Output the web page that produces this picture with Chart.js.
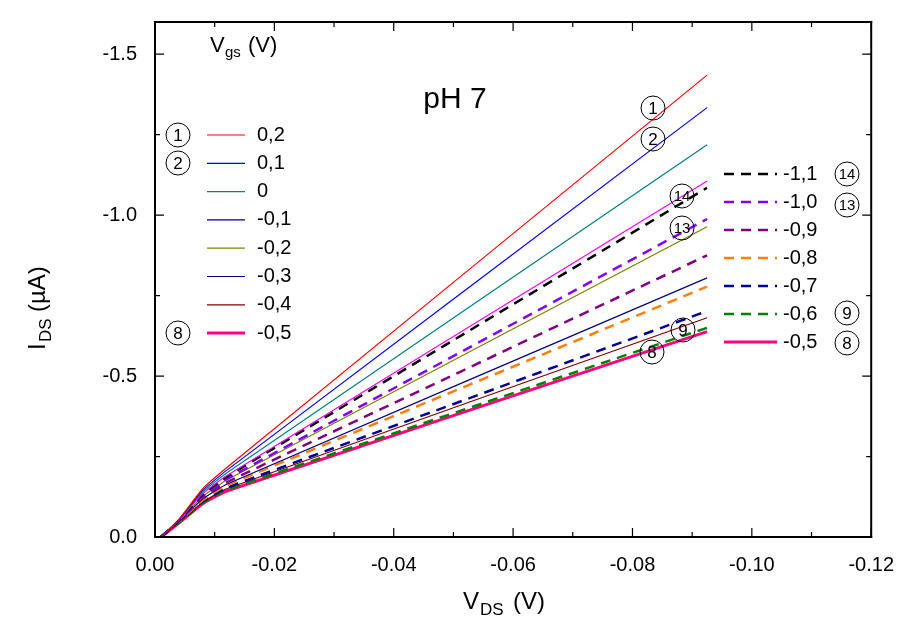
<!DOCTYPE html>
<html><head><meta charset="utf-8">
<script src="https://cdn.jsdelivr.net/npm/chart.js@4"></script>
<style>body{margin:0;background:#fff}#c{display:block}</style>
</head><body>
<div style="width:902px;height:631px"><canvas id="c"></canvas></div>
<script>
// |V_DS| in V, |I_DS| in uA (plotted as magnitudes, labels carry the minus sign)
const vds = [0.001, 0.004, 0.008, 0.012, 0.0925];
const vgsLabels = ['0,2', '0,1', '0', '-0,1', '-1,1', '-1,0', '-0,2', '-0,9', '-0,3', '-0,8', '-0,7', '-0,4', '-0,6', '-0,5'];
const colors = ['#ff0000', '#0000ff', '#008080', '#ff00ff', '#000000', '#8000ff', '#808000', '#800080', '#000080', '#ff8000', '#000099', '#800000', '#008000', '#ff0080'];
const dashed = [false, false, false, false, true, true, false, true, false, true, true, false, true, false];
const widths = [1.2, 1.2, 1.2, 1.2, 2.5, 2.5, 1.2, 2.5, 1.2, 2.5, 2.5, 1.2, 2.5, 3];
const curves = [
  [0, 0.055, 0.150, 0.215, 1.435],
  [0, 0.054, 0.145, 0.207, 1.334],
  [0, 0.053, 0.140, 0.199, 1.219],
  [0, 0.052, 0.135, 0.190, 1.106],
  [0, 0.051, 0.132, 0.187, 1.085],
  [0, 0.050, 0.128, 0.180, 0.988],
  [0, 0.050, 0.126, 0.177, 0.964],
  [0, 0.049, 0.122, 0.170, 0.875],
  [0, 0.048, 0.118, 0.164, 0.805],
  [0, 0.047, 0.115, 0.160, 0.778],
  [0, 0.046, 0.110, 0.153, 0.702],
  [0, 0.045, 0.108, 0.150, 0.681],
  [0, 0.044, 0.105, 0.146, 0.650],
  [0, 0.043, 0.103, 0.143, 0.638]
];
const leftLegend = ['0,2', '0,1', '0', '-0,1', '-0,2', '-0,3', '-0,4', '-0,5'];
const leftColors = ['#ff0000', '#0000ff', '#008080', '#000080', '#808000', '#000099', '#800000', '#ff0080'];
const rightLegend = ['-1,1', '-1,0', '-0,9', '-0,8', '-0,7', '-0,6', '-0,5'];
const rightColors = ['#000000', '#8000ff', '#800080', '#ff8000', '#000099', '#008000', '#ff0080'];
const rightDashed = [true, true, true, true, true, true, false];

const datasets = curves.map((ys, i) => ({
  label: vgsLabels[i],
  data: ys.map((y, j) => ({x: vds[j], y: y})),
  borderColor: colors[i],
  borderWidth: widths[i],
  borderDash: dashed[i] ? [10, 7] : [],
  pointRadius: 0,
  tension: 0.15
}));

function circ(ctx, x, y, t) {
  ctx.beginPath(); ctx.arc(x, y, 12, 0, Math.PI * 2);
  ctx.lineWidth = 1; ctx.strokeStyle = '#000'; ctx.setLineDash([]); ctx.stroke();
  ctx.font = (t.length > 1 ? '15px' : '17px') + ' "Liberation Sans", Arial';
  ctx.fillStyle = '#000'; ctx.textAlign = 'center'; ctx.textBaseline = 'middle';
  ctx.fillText(t, x, y + 1);
}

const deco = {
  id: 'deco',
  afterDraw(chart) {
    const ctx = chart.ctx, a = chart.chartArea;
    const xs = chart.scales.x, ys = chart.scales.y;
    ctx.save();
    ctx.setLineDash([]);
    // plot frame
    ctx.fillStyle = '#000';
    ctx.fillRect(a.left - 1, a.top - 1, a.right - a.left + 2, 2);
    ctx.fillRect(a.left - 1, a.bottom - 1, a.right - a.left + 2, 2);
    ctx.fillRect(a.left - 1, a.top - 1, 2, a.bottom - a.top + 2);
    ctx.fillRect(a.right - 1, a.top - 1, 2, a.bottom - a.top + 2);
    ctx.strokeStyle = '#000'; ctx.lineWidth = 1.2;
    for (let v = 0; v <= 0.1201; v += 0.01) {
      const p = xs.getPixelForValue(v), L = Math.round(v * 100) % 2 === 0 ? 9 : 5;
      ctx.beginPath(); ctx.moveTo(p, a.bottom); ctx.lineTo(p, a.bottom - L);
      ctx.moveTo(p, a.top); ctx.lineTo(p, a.top + L); ctx.stroke();
    }
    for (let v = 0; v <= 1.6; v += 0.25) {
      const p = ys.getPixelForValue(v); if (p < a.top) continue;
      const L = Math.round(v * 4) % 2 === 0 ? 9 : 5;
      ctx.beginPath(); ctx.moveTo(a.left, p); ctx.lineTo(a.left + L, p);
      ctx.moveTo(a.right, p); ctx.lineTo(a.right - L, p); ctx.stroke();
    }
    ctx.textBaseline = 'middle';
    ctx.font = '30px "Liberation Sans", Arial'; ctx.textAlign = 'center';
    ctx.fillText('pH 7', 455, 100);
    ctx.font = '22px "Liberation Sans", Arial'; ctx.textAlign = 'left';
    ctx.fillText('V', 210, 46);
    ctx.font = '15px "Liberation Sans", Arial'; ctx.fillText('gs', 225, 53);
    ctx.font = '22px "Liberation Sans", Arial'; ctx.fillText('(V)', 248, 46);
    ctx.font = '20px "Liberation Sans", Arial';
    leftLegend.forEach((t, i) => {
      const y = 135 + i * 28.3;
      ctx.strokeStyle = leftColors[i]; ctx.lineWidth = i === 7 ? 3 : 1.2; ctx.setLineDash([]);
      ctx.beginPath(); ctx.moveTo(207, y); ctx.lineTo(245, y); ctx.stroke();
      ctx.fillText(t, 257, y);
    });
    rightLegend.forEach((t, i) => {
      const y = 174 + i * 28;
      ctx.strokeStyle = rightColors[i]; ctx.lineWidth = rightDashed[i] ? 2.5 : 3;
      ctx.setLineDash(rightDashed[i] ? [10, 7] : []);
      ctx.beginPath(); ctx.moveTo(724, y); ctx.lineTo(777, y); ctx.stroke();
      ctx.setLineDash([]);
      ctx.fillText(t, 783, y);
    });
    [[178, 135, '1'], [178, 163, '2'], [178, 333, '8'], [653, 108, '1'], [653, 139, '2'],
     [682, 196, '14'], [682, 228, '13'], [683, 330, '9'], [652, 352, '8'],
     [847, 174, '14'], [847, 205, '13'], [847, 313, '9'], [847, 343, '8']].forEach(c => circ(ctx, c[0], c[1], c[2]));
    // axis titles
    ctx.textAlign = 'left'; ctx.font = '24px "Liberation Sans", Arial';
    ctx.fillText('V', 463, 602);
    ctx.font = '17px "Liberation Sans", Arial'; ctx.fillText('DS', 480, 610);
    ctx.font = '24px "Liberation Sans", Arial'; ctx.fillText('(V)', 513, 602);
    ctx.translate(38, 290); ctx.rotate(-Math.PI / 2);
    ctx.fillText('I', -60, 0);
    ctx.font = '17px "Liberation Sans", Arial'; ctx.fillText('DS', -52, 8);
    ctx.font = '24px "Liberation Sans", Arial'; ctx.fillText('(\u00b5A)', -22, 0);
    ctx.restore();
  }
};

const tickFont = {size: 20, family: '"Liberation Sans", Arial'};

new Chart(document.getElementById('c'), {
  type: 'line',
  data: {datasets},
  options: {
    responsive: true, maintainAspectRatio: false, animation: false,
    layout: {padding: {top: 12, right: 22}},
    plugins: {legend: {display: false}, tooltip: {enabled: false}},
    scales: {
      x: {
        type: 'linear', min: 0, max: 0.12,
        grid: {display: false}, border: {display: false},
        afterFit(s) { s.height = 94; },
        ticks: {stepSize: 0.02, color: '#000', font: tickFont, padding: 8,
          callback: v => Math.abs(v) < 1e-9 ? '0.00' : '-' + v.toFixed(2)}
      },
      y: {
        min: 0, max: 1.6,
        grid: {display: false}, border: {display: false},
        afterFit(s) { s.width = 155; },
        ticks: {stepSize: 0.5, color: '#000', font: tickFont, padding: 10,
          callback: v => Math.abs(v) < 1e-9 ? '0.0' : (v > 1.55 ? '' : '-' + v.toFixed(1))}
      }
    }
  },
  plugins: [deco]
});
</script>
</body></html>
